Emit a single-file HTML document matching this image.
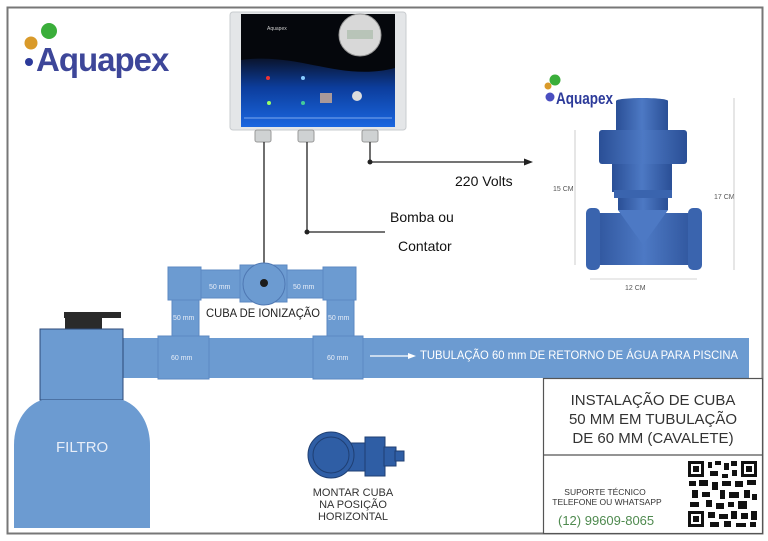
<!DOCTYPE html>
<html><head><meta charset="utf-8"><style>
html,body{margin:0;padding:0;background:#fff}
svg{display:block;font-family:"Liberation Sans",sans-serif}
</style></head><body>
<svg width="768" height="541" viewBox="0 0 768 541" xmlns="http://www.w3.org/2000/svg">
<defs>
<linearGradient id="pan" x1="0" y1="0" x2="0" y2="1">
<stop offset="0" stop-color="#05070d"/><stop offset="0.4" stop-color="#0a1530"/><stop offset="0.65" stop-color="#0c3d9c"/><stop offset="1" stop-color="#1a66e0"/></linearGradient>
<linearGradient id="valve" x1="0" y1="0" x2="1" y2="0">
<stop offset="0" stop-color="#2a4f96"/><stop offset="0.5" stop-color="#4d79c4"/><stop offset="1" stop-color="#2a4f96"/></linearGradient>
</defs>
<rect x="0" y="0" width="768" height="541" fill="#fff"/>
<rect x="7.5" y="7.5" width="755" height="526" fill="none" stroke="#777" stroke-width="2"/>

<!-- logo left -->
<circle cx="49" cy="31" r="8" fill="#3aae3a"/>
<circle cx="31" cy="43" r="6.5" fill="#d99a2a"/>
<circle cx="29" cy="62" r="4" fill="#2c3a9a"/>
<text x="36" y="71" font-size="33" font-weight="bold" fill="#3d4699" letter-spacing="-1">Aquapex</text>

<!-- controller -->
<rect x="230" y="12" width="176" height="118" rx="3" fill="#e4e6e8" stroke="#c9cccf"/>
<rect x="241" y="14" width="154" height="113" fill="url(#pan)"/>
<path d="M241 60 C300 52 340 82 395 68 L395 14 L241 14Z" fill="#05070c"/>
<text x="267" y="30" font-size="5" fill="#ccc">Aquapex</text>
<circle cx="360" cy="35" r="21" fill="#d8d8d8" stroke="#999"/>
<rect x="347" y="30" width="26" height="9" fill="#b8c4b8"/>
<circle cx="268" cy="78" r="2" fill="#e33"/><circle cx="303" cy="78" r="2" fill="#8cf"/>
<circle cx="269" cy="103" r="2" fill="#9f6"/><circle cx="303" cy="103" r="2" fill="#4c9"/>
<rect x="320" y="93" width="12" height="10" fill="#a99"/>
<circle cx="357" cy="96" r="5" fill="#ddd"/>
<rect x="244" y="117" width="148" height="2" fill="#6c9be8" opacity=".6"/>
<rect x="255" y="130" width="16" height="12" rx="2" fill="#cfd2d3" stroke="#999"/>
<rect x="298" y="130" width="16" height="12" rx="2" fill="#cfd2d3" stroke="#999"/>
<rect x="362" y="130" width="16" height="12" rx="2" fill="#cfd2d3" stroke="#999"/>

<!-- wires -->
<g stroke="#222" stroke-width="1.3" fill="none">
<path d="M264 142 V284"/>
<path d="M307 142 V232 H385"/>
<path d="M370 142 V162 H525"/>
</g>
<path d="M533 162 L524 158.5 L524 165.5Z" fill="#222"/>
<circle cx="307" cy="232" r="2.5" fill="#222"/>
<circle cx="370" cy="162" r="2.5" fill="#222"/>
<text x="455" y="186" font-size="14" fill="#111">220 Volts</text>
<text x="390" y="222" font-size="14" fill="#111">Bomba ou</text>
<text x="398" y="251" font-size="14" fill="#111">Contator</text>

<!-- pipes -->
<g fill="#6c9bd1" stroke="#5c88c2" stroke-width="1">
<rect x="120" y="338" width="629" height="40" stroke="none"/>
<rect x="172" y="298" width="27" height="40"/>
<rect x="327" y="298" width="27" height="40"/>
<rect x="200" y="270" width="124" height="28"/>
<rect x="168" y="267" width="33" height="33"/>
<rect x="323" y="267" width="33" height="33"/>
<rect x="240" y="265" width="47" height="37"/>
<rect x="158" y="336" width="51" height="43"/>
<rect x="313" y="336" width="50" height="43"/>
</g>
<circle cx="264" cy="284" r="21" fill="#6c9bd1" stroke="#4f78b3"/>
<circle cx="264" cy="283" r="4" fill="#1c1c1c"/>
<g fill="#e8eef8" font-size="7">
<text x="209" y="289">50 mm</text><text x="293" y="289">50 mm</text>
<text x="173" y="320">50 mm</text><text x="328" y="320">50 mm</text>
<text x="171" y="360">60 mm</text><text x="327" y="360">60 mm</text>
</g>
<text x="206" y="317" font-size="11.5" fill="#222" textLength="114" lengthAdjust="spacingAndGlyphs">CUBA DE IONIZAÇÃO</text>
<line x1="370" y1="356" x2="410" y2="356" stroke="#fff" stroke-width="1.3"/>
<path d="M416 356 L408 353 L408 359Z" fill="#fff"/>
<text x="420" y="359" font-size="11.5" fill="#fff" textLength="318" lengthAdjust="spacingAndGlyphs">TUBULAÇÃO 60 mm DE RETORNO DE ÁGUA  PARA PISCINA</text>

<!-- filter -->
<rect x="64" y="312" width="57" height="6" fill="#2a2a2a"/>
<rect x="65" y="317" width="37" height="12" fill="#2a2a2a"/>
<rect x="40" y="329" width="83" height="71" fill="#6c9bd1" stroke="#2d4a78" stroke-width="1"/>
<path d="M14 528 V445 C14 420 28 404 42 400 H123 C140 406 150 425 150 445 V528Z" fill="#6c9bd1"/>
<text x="56" y="452" font-size="15" fill="#e8eef8">FILTRO</text>

<!-- horizontal cuba icon -->
<rect x="348" y="443" width="18" height="28" fill="#2f5ea5" stroke="#1f3f73"/>
<rect x="365" y="437" width="20" height="39" fill="#2f5ea5" stroke="#1f3f73"/>
<rect x="384" y="447" width="12" height="19" fill="#2f5ea5" stroke="#1f3f73"/>
<rect x="395" y="451" width="9" height="10" fill="#2f5ea5" stroke="#1f3f73"/>
<circle cx="331" cy="455" r="23" fill="#2f5ea5" stroke="#1f3f73"/>
<circle cx="331" cy="455" r="18" fill="none" stroke="#1f3f73"/>
<g font-size="11" fill="#333" text-anchor="middle">
<text x="353" y="496">MONTAR CUBA</text>
<text x="353" y="508">NA POSIÇÃO</text>
<text x="353" y="520">HORIZONTAL</text>
</g>

<!-- right product -->
<path d="M616 101 C616 97 668 97 668 101 V130 H616Z" fill="url(#valve)"/>
<rect x="599" y="130" width="88" height="34" rx="3" fill="url(#valve)"/>
<rect x="612" y="164" width="60" height="28" fill="url(#valve)"/>
<rect x="614" y="190" width="58" height="8" fill="#3a64ae"/>
<path d="M618 198 H668 V210 H618Z" fill="url(#valve)"/>
<rect x="586" y="213" width="116" height="52" rx="4" fill="url(#valve)"/>
<rect x="586" y="208" width="14" height="62" rx="5" fill="#3a64ae"/>
<rect x="688" y="208" width="14" height="62" rx="5" fill="#3a64ae"/>
<path d="M618 210 L643 245 L668 210Z" fill="#4d79c4"/>
<circle cx="555" cy="80" r="5.5" fill="#3aae3a"/>
<circle cx="548" cy="86" r="3.5" fill="#d99a2a"/>
<circle cx="550" cy="97" r="4.5" fill="#4a4ec0"/>
<text x="556" y="104" font-size="17" font-weight="bold" fill="#2c3a9a" textLength="57" lengthAdjust="spacingAndGlyphs">Aquapex</text>
<g fill="#555" font-size="7">
<text x="553" y="191">15 CM</text>
<text x="714" y="199">17 CM</text>
<text x="625" y="290">12 CM</text>
</g>
<g stroke="#aaa" stroke-width=".6">
<line x1="575" y1="130" x2="575" y2="265"/>
<line x1="734" y1="98" x2="734" y2="270"/>
<line x1="590" y1="279" x2="697" y2="279"/>
</g>

<!-- info boxes -->
<rect x="543.5" y="378.5" width="219" height="155" fill="#fff" stroke="#555" stroke-width="1.2"/>
<line x1="543" y1="455" x2="763" y2="455" stroke="#555" stroke-width="1.2"/>
<g font-size="15" fill="#333" text-anchor="middle">
<text x="653" y="405">INSTALAÇÃO DE CUBA</text>
<text x="653" y="424">50 MM EM TUBULAÇÃO</text>
<text x="653" y="443">DE 60 MM (CAVALETE)</text>
</g>
<g font-size="8.5" fill="#333" text-anchor="middle">
<text x="605" y="495">SUPORTE TÉCNICO</text>
<text x="607" y="505">TELEFONE OU WHATSAPP</text>
</g>
<text x="558" y="525" font-size="13" fill="#4f8a4f">(12) 99609-8065</text>
<g fill="#111">
<rect x="688" y="460" width="70" height="68" fill="#fff"/>
<rect x="688" y="461" width="16" height="16"/><rect x="691" y="464" width="10" height="10" fill="#fff"/><rect x="693" y="466" width="6" height="6"/>
<rect x="741" y="461" width="16" height="16"/><rect x="744" y="464" width="10" height="10" fill="#fff"/><rect x="746" y="466" width="6" height="6"/>
<rect x="688" y="511" width="16" height="16"/><rect x="691" y="514" width="10" height="10" fill="#fff"/><rect x="693" y="516" width="6" height="6"/>
<rect x="708" y="462" width="4" height="6"/><rect x="715" y="461" width="6" height="4"/><rect x="724" y="463" width="5" height="7"/><rect x="731" y="461" width="6" height="5"/>
<rect x="710" y="471" width="8" height="5"/><rect x="722" y="474" width="6" height="4"/><rect x="732" y="470" width="5" height="6"/>
<rect x="689" y="481" width="7" height="5"/><rect x="699" y="480" width="9" height="6"/><rect x="712" y="482" width="6" height="8"/><rect x="722" y="481" width="9" height="5"/><rect x="735" y="481" width="8" height="6"/><rect x="747" y="480" width="9" height="5"/>
<rect x="692" y="490" width="6" height="8"/><rect x="702" y="492" width="8" height="5"/><rect x="720" y="490" width="5" height="9"/><rect x="729" y="492" width="10" height="6"/><rect x="744" y="490" width="6" height="8"/><rect x="752" y="494" width="5" height="6"/>
<rect x="690" y="502" width="9" height="5"/><rect x="706" y="500" width="6" height="7"/><rect x="716" y="503" width="8" height="6"/><rect x="728" y="502" width="6" height="5"/><rect x="738" y="501" width="9" height="8"/>
<rect x="708" y="512" width="7" height="6"/><rect x="719" y="514" width="9" height="5"/><rect x="731" y="511" width="6" height="8"/><rect x="741" y="513" width="7" height="6"/><rect x="751" y="511" width="6" height="9"/>
<rect x="710" y="522" width="9" height="5"/><rect x="724" y="521" width="7" height="6"/><rect x="736" y="523" width="10" height="4"/><rect x="750" y="522" width="6" height="5"/>
</g>
</svg>
</body></html>
